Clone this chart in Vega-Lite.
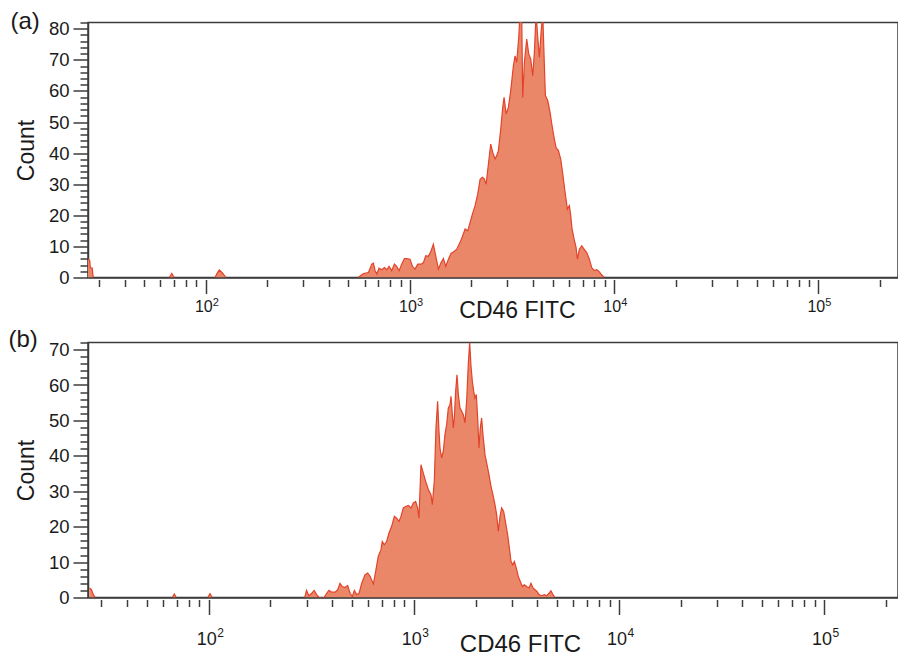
{
  "$schema": "https://vega.github.io/schema/vega-lite/v6.json",
  "background": "white",
  "padding": {"left": 7, "top": 8.5, "right": 0, "bottom": 0},
  "spacing": 3,
  "config": {
    "font": "Liberation Sans",
    "view": {"stroke": "#3c3c3c", "strokeWidth": 1.5},
    "axis": {"grid": false, "tickColor": "#3c3c3c", "domainColor": "#3c3c3c", "tickWidth": 1.5, "domainWidth": 1.5, "labelColor": "#1a1a1a", "titleColor": "#1a1a1a", "titleFontWeight": "normal", "labelOverlap": false, "labelFlush": false, "zindex": 1}
  },
  "datasets": {
    "a": [
      {"v": 26.5, "count": 6.0, "seg": 1}, {"v": 27.0, "count": 5.5, "seg": 1}, {"v": 27.2, "count": 3.2, "seg": 1}, {"v": 27.8, "count": 3.0, "seg": 1}, {"v": 28.1, "count": 0, "seg": 1},
      {"v": 66.3, "count": 0, "seg": 2}, {"v": 68.2, "count": 1.3, "seg": 2}, {"v": 70, "count": 0, "seg": 2},
      {"v": 111, "count": 0, "seg": 3}, {"v": 114, "count": 1.5, "seg": 3}, {"v": 116.5, "count": 2.4, "seg": 3}, {"v": 120, "count": 1.6, "seg": 3}, {"v": 123, "count": 0.8, "seg": 3}, {"v": 125.5, "count": 0, "seg": 3},
      {"v": 559, "count": 0, "seg": 4}, {"v": 570, "count": 0.5, "seg": 4}, {"v": 592, "count": 1.3, "seg": 4}, {"v": 626, "count": 1.6, "seg": 4}, {"v": 650, "count": 4.3, "seg": 4}, {"v": 662, "count": 4.6, "seg": 4}, {"v": 675, "count": 2.2, "seg": 4}, {"v": 688, "count": 1.1, "seg": 4}, {"v": 706, "count": 3.0, "seg": 4}, {"v": 727, "count": 2.5, "seg": 4}, {"v": 750, "count": 3.2, "seg": 4}, {"v": 770, "count": 2.5, "seg": 4}, {"v": 790, "count": 3.6, "seg": 4}, {"v": 814, "count": 2.2, "seg": 4}, {"v": 839, "count": 4.3, "seg": 4}, {"v": 861, "count": 3.6, "seg": 4}, {"v": 885, "count": 2.2, "seg": 4}, {"v": 911, "count": 4.3, "seg": 4}, {"v": 939, "count": 6.1, "seg": 4}, {"v": 964, "count": 6.1, "seg": 4}, {"v": 1001, "count": 5.9, "seg": 4}, {"v": 1028, "count": 3.6, "seg": 4}, {"v": 1059, "count": 2.7, "seg": 4}, {"v": 1092, "count": 4.3, "seg": 4}, {"v": 1134, "count": 4.3, "seg": 4}, {"v": 1164, "count": 4.8, "seg": 4}, {"v": 1195, "count": 7.0, "seg": 4}, {"v": 1231, "count": 6.8, "seg": 4}, {"v": 1269, "count": 8.6, "seg": 4}, {"v": 1302, "count": 10.7, "seg": 4}, {"v": 1327, "count": 8.0, "seg": 4}, {"v": 1352, "count": 5.4, "seg": 4}, {"v": 1378, "count": 2.7, "seg": 4}, {"v": 1420, "count": 4.8, "seg": 4}, {"v": 1458, "count": 6.1, "seg": 4}, {"v": 1497, "count": 3.6, "seg": 4}, {"v": 1543, "count": 5.9, "seg": 4}, {"v": 1590, "count": 7.8, "seg": 4}, {"v": 1633, "count": 8.2, "seg": 4}, {"v": 1695, "count": 9.1, "seg": 4}, {"v": 1760, "count": 11.3, "seg": 4}, {"v": 1807, "count": 13.2, "seg": 4}, {"v": 1862, "count": 15.6, "seg": 4}, {"v": 1919, "count": 15.0, "seg": 4}, {"v": 1970, "count": 17.7, "seg": 4}, {"v": 2022, "count": 20.4, "seg": 4}, {"v": 2084, "count": 23.1, "seg": 4}, {"v": 2147, "count": 26.8, "seg": 4}, {"v": 2205, "count": 31.6, "seg": 4}, {"v": 2263, "count": 32.2, "seg": 4}, {"v": 2307, "count": 31.8, "seg": 4}, {"v": 2359, "count": 30.0, "seg": 4}, {"v": 2422, "count": 36.5, "seg": 4}, {"v": 2486, "count": 42.9, "seg": 4}, {"v": 2543, "count": 40.2, "seg": 4}, {"v": 2611, "count": 38.1, "seg": 4}, {"v": 2660, "count": 39.2, "seg": 4}, {"v": 2711, "count": 40.8, "seg": 4}, {"v": 2783, "count": 47.7, "seg": 4}, {"v": 2847, "count": 54.7, "seg": 4}, {"v": 2890, "count": 57.9, "seg": 4}, {"v": 2956, "count": 52.6, "seg": 4}, {"v": 3034, "count": 54.7, "seg": 4}, {"v": 3115, "count": 60.1, "seg": 4}, {"v": 3210, "count": 68.1, "seg": 4}, {"v": 3271, "count": 71.3, "seg": 4}, {"v": 3333, "count": 69.2, "seg": 4}, {"v": 3409, "count": 77.2, "seg": 4}, {"v": 3461, "count": 85, "seg": 4}, {"v": 3526, "count": 84, "seg": 4}, {"v": 3566, "count": 57.9, "seg": 4}, {"v": 3634, "count": 69.2, "seg": 4}, {"v": 3731, "count": 76.7, "seg": 4}, {"v": 3816, "count": 71.9, "seg": 4}, {"v": 3903, "count": 70.3, "seg": 4}, {"v": 3992, "count": 64.9, "seg": 4}, {"v": 4068, "count": 72.4, "seg": 4}, {"v": 4145, "count": 85, "seg": 4}, {"v": 4224, "count": 77.2, "seg": 4}, {"v": 4305, "count": 70.8, "seg": 4}, {"v": 4385, "count": 78.8, "seg": 4}, {"v": 4469, "count": 85, "seg": 4}, {"v": 4536, "count": 71.3, "seg": 4}, {"v": 4605, "count": 58.5, "seg": 4}, {"v": 4728, "count": 56.9, "seg": 4}, {"v": 4854, "count": 53.1, "seg": 4}, {"v": 4965, "count": 48.8, "seg": 4}, {"v": 5078, "count": 45.0, "seg": 4}, {"v": 5194, "count": 41.8, "seg": 4}, {"v": 5332, "count": 40.8, "seg": 4}, {"v": 5474, "count": 38.1, "seg": 4}, {"v": 5600, "count": 33.3, "seg": 4}, {"v": 5749, "count": 27.4, "seg": 4}, {"v": 5902, "count": 22.0, "seg": 4}, {"v": 6037, "count": 23.1, "seg": 4}, {"v": 6128, "count": 19.9, "seg": 4}, {"v": 6220, "count": 15.6, "seg": 4}, {"v": 6362, "count": 12.4, "seg": 4}, {"v": 6507, "count": 9.7, "seg": 4}, {"v": 6607, "count": 5.9, "seg": 4}, {"v": 6757, "count": 9.1, "seg": 4}, {"v": 6937, "count": 10.2, "seg": 4}, {"v": 7122, "count": 9.1, "seg": 4}, {"v": 7339, "count": 8.0, "seg": 4}, {"v": 7563, "count": 5.9, "seg": 4}, {"v": 7766, "count": 3.2, "seg": 4}, {"v": 7972, "count": 2.2, "seg": 4}, {"v": 8216, "count": 2.5, "seg": 4}, {"v": 8469, "count": 1.8, "seg": 4}, {"v": 8695, "count": 0.8, "seg": 4}, {"v": 8925, "count": 0, "seg": 4}
    ],
    "b": [
      {"v": 26.2, "count": 2.7, "seg": 1}, {"v": 26.8, "count": 2.2, "seg": 1}, {"v": 27.4, "count": 0.8, "seg": 1}, {"v": 28.0, "count": 0, "seg": 1},
      {"v": 66.5, "count": 0, "seg": 2}, {"v": 68, "count": 1.0, "seg": 2}, {"v": 69.5, "count": 0, "seg": 2},
      {"v": 99, "count": 0, "seg": 3}, {"v": 101.5, "count": 1.1, "seg": 3}, {"v": 104, "count": 0, "seg": 3},
      {"v": 292.6, "count": 0, "seg": 4}, {"v": 295, "count": 0.3, "seg": 4}, {"v": 300, "count": 2.0, "seg": 4}, {"v": 308, "count": 0.5, "seg": 4}, {"v": 318, "count": 1.2, "seg": 4}, {"v": 327, "count": 2.0, "seg": 4}, {"v": 336, "count": 0.8, "seg": 4}, {"v": 345, "count": 0, "seg": 4}, {"v": 366, "count": 0, "seg": 4}, {"v": 376, "count": 1.2, "seg": 4}, {"v": 386, "count": 2.0, "seg": 4}, {"v": 398, "count": 1.5, "seg": 4}, {"v": 413, "count": 1.5, "seg": 4}, {"v": 425, "count": 2.1, "seg": 4}, {"v": 437, "count": 4.0, "seg": 4}, {"v": 448, "count": 3.1, "seg": 4}, {"v": 462, "count": 2.8, "seg": 4}, {"v": 476, "count": 3.4, "seg": 4}, {"v": 489, "count": 1.2, "seg": 4}, {"v": 502, "count": 0.3, "seg": 4}, {"v": 513, "count": 2.0, "seg": 4}, {"v": 527, "count": 0.8, "seg": 4}, {"v": 541, "count": 1.2, "seg": 4}, {"v": 557, "count": 4.0, "seg": 4}, {"v": 578, "count": 6.4, "seg": 4}, {"v": 596, "count": 6.9, "seg": 4}, {"v": 612, "count": 6.0, "seg": 4}, {"v": 635, "count": 3.8, "seg": 4}, {"v": 652, "count": 7.4, "seg": 4}, {"v": 671, "count": 11.6, "seg": 4}, {"v": 692, "count": 13.5, "seg": 4}, {"v": 702, "count": 15.8, "seg": 4}, {"v": 718, "count": 14.9, "seg": 4}, {"v": 737, "count": 15.8, "seg": 4}, {"v": 757, "count": 18.2, "seg": 4}, {"v": 780, "count": 20.1, "seg": 4}, {"v": 804, "count": 22.9, "seg": 4}, {"v": 825, "count": 22.4, "seg": 4}, {"v": 847, "count": 21.5, "seg": 4}, {"v": 866, "count": 22.9, "seg": 4}, {"v": 889, "count": 25.3, "seg": 4}, {"v": 913, "count": 25.7, "seg": 4}, {"v": 941, "count": 26.0, "seg": 4}, {"v": 969, "count": 25.3, "seg": 4}, {"v": 995, "count": 26.7, "seg": 4}, {"v": 1021, "count": 27.1, "seg": 4}, {"v": 1044, "count": 25.3, "seg": 4}, {"v": 1060, "count": 22.4, "seg": 4}, {"v": 1084, "count": 37.5, "seg": 4}, {"v": 1113, "count": 35.1, "seg": 4}, {"v": 1143, "count": 32.8, "seg": 4}, {"v": 1177, "count": 30.5, "seg": 4}, {"v": 1213, "count": 29.0, "seg": 4}, {"v": 1231, "count": 26.2, "seg": 4}, {"v": 1259, "count": 32.8, "seg": 4}, {"v": 1283, "count": 47.9, "seg": 4}, {"v": 1307, "count": 55.4, "seg": 4}, {"v": 1327, "count": 46.9, "seg": 4}, {"v": 1342, "count": 42.2, "seg": 4}, {"v": 1367, "count": 39.4, "seg": 4}, {"v": 1393, "count": 41.3, "seg": 4}, {"v": 1419, "count": 46.0, "seg": 4}, {"v": 1446, "count": 48.8, "seg": 4}, {"v": 1474, "count": 53.5, "seg": 4}, {"v": 1502, "count": 54.4, "seg": 4}, {"v": 1519, "count": 56.8, "seg": 4}, {"v": 1542, "count": 51.6, "seg": 4}, {"v": 1559, "count": 47.9, "seg": 4}, {"v": 1576, "count": 50.7, "seg": 4}, {"v": 1600, "count": 58.2, "seg": 4}, {"v": 1624, "count": 62.9, "seg": 4}, {"v": 1649, "count": 57.3, "seg": 4}, {"v": 1680, "count": 53.5, "seg": 4}, {"v": 1712, "count": 52.6, "seg": 4}, {"v": 1744, "count": 51.6, "seg": 4}, {"v": 1777, "count": 49.3, "seg": 4}, {"v": 1810, "count": 55.4, "seg": 4}, {"v": 1845, "count": 66.2, "seg": 4}, {"v": 1873, "count": 72, "seg": 4}, {"v": 1901, "count": 65.3, "seg": 4}, {"v": 1930, "count": 61.0, "seg": 4}, {"v": 1959, "count": 58.2, "seg": 4}, {"v": 1988, "count": 56.3, "seg": 4}, {"v": 2018, "count": 57.3, "seg": 4}, {"v": 2048, "count": 50.7, "seg": 4}, {"v": 2079, "count": 42.2, "seg": 4}, {"v": 2110, "count": 47.9, "seg": 4}, {"v": 2142, "count": 50.7, "seg": 4}, {"v": 2174, "count": 46.0, "seg": 4}, {"v": 2224, "count": 40.3, "seg": 4}, {"v": 2275, "count": 37.5, "seg": 4}, {"v": 2326, "count": 34.7, "seg": 4}, {"v": 2379, "count": 31.4, "seg": 4}, {"v": 2433, "count": 29.0, "seg": 4}, {"v": 2488, "count": 26.2, "seg": 4}, {"v": 2535, "count": 23.4, "seg": 4}, {"v": 2583, "count": 18.7, "seg": 4}, {"v": 2632, "count": 22.9, "seg": 4}, {"v": 2682, "count": 25.3, "seg": 4}, {"v": 2743, "count": 24.3, "seg": 4}, {"v": 2805, "count": 21.0, "seg": 4}, {"v": 2869, "count": 17.7, "seg": 4}, {"v": 2923, "count": 14.0, "seg": 4}, {"v": 2978, "count": 10.2, "seg": 4}, {"v": 3034, "count": 9.2, "seg": 4}, {"v": 3092, "count": 10.2, "seg": 4}, {"v": 3162, "count": 8.3, "seg": 4}, {"v": 3234, "count": 5.9, "seg": 4}, {"v": 3307, "count": 4.5, "seg": 4}, {"v": 3382, "count": 3.1, "seg": 4}, {"v": 3458, "count": 3.6, "seg": 4}, {"v": 3550, "count": 3.1, "seg": 4}, {"v": 3645, "count": 2.7, "seg": 4}, {"v": 3727, "count": 4.0, "seg": 4}, {"v": 3812, "count": 2.7, "seg": 4}, {"v": 3898, "count": 2.2, "seg": 4}, {"v": 3987, "count": 1.7, "seg": 4}, {"v": 4077, "count": 0.8, "seg": 4}, {"v": 4201, "count": 0.5, "seg": 4}, {"v": 4329, "count": 0.8, "seg": 4}, {"v": 4444, "count": 0.5, "seg": 4}, {"v": 4563, "count": 1.2, "seg": 4}, {"v": 4667, "count": 1.9, "seg": 4}, {"v": 4772, "count": 0.8, "seg": 4}, {"v": 4880, "count": 0, "seg": 4}
    ]
  },
  "vconcat": [
    {
      "data": {"name": "a"},
      "width": 810,
      "height": 255,
      "layer": [
        {
          "mark": {"type": "area", "color": "#EA8769", "opacity": 1, "clip": true},
          "encoding": {
            "x": {"field": "v", "type": "quantitative", "scale": {"type": "log", "domain": [26.5, 245500], "nice": false},
              "axis": {"orient": "bottom", "title": "CD46 FITC", "values": [30,40,50,60,70,80,90,100,200,300,400,500,600,700,800,900,1000,2000,3000,4000,5000,6000,7000,8000,9000,10000,20000,30000,40000,50000,60000,70000,80000,90000,100000,200000],
                "labelExpr": "(datum.value==100||datum.value==1000||datum.value==10000||datum.value==100000)?'10':''",
                "tickSize": {"condition": {"test": "datum.value==100||datum.value==1000||datum.value==10000||datum.value==100000", "value": 14}, "value": 7},
                "offset": 2, "domain": false, "labelFontSize": 16, "labelPadding": 5, "labelOffset": -2.5,
                "titleFontSize": 23, "titleX": 429, "titleY": 38, "titleBaseline": "alphabetic"}},
            "y": {"field": "count", "type": "quantitative", "stack": null, "scale": {"domain": [0, 82], "nice": false},
              "axis": {"orient": "left", "title": "Count", "values": [0,2,4,6,8,10,12,14,16,18,20,22,24,26,28,30,32,34,36,38,40,42,44,46,48,50,52,54,56,58,60,62,64,66,68,70,72,74,76,78,80,82],
                "labelExpr": "datum.value % 10 === 0 ? datum.label : ''",
                "tickSize": {"condition": {"test": "datum.value % 10 === 0", "value": 15}, "value": 8},
                "labelFontSize": 18.5, "labelPadding": 4, "titleFontSize": 23, "titlePadding": 10}},
            "detail": {"field": "seg", "type": "nominal"}
          }
        },
        {
          "mark": {"type": "line", "color": "#E2432A", "strokeWidth": 1.2, "clip": true},
          "encoding": {
            "x": {"field": "v", "type": "quantitative",
              "axis": {"orient": "bottom", "title": null, "values": [100,1000,10000,100000],
                "labelExpr": "datum.value==100?'2':datum.value==1000?'3':datum.value==10000?'4':'5'",
                "tickSize": 16, "tickOpacity": 0, "domain": true, "labelFontSize": 11, "labelAlign": "left", "labelOffset": 6.5, "labelPadding": 3}},
            "y": {"field": "count", "type": "quantitative",
              "axis": {"orient": "left", "title": "(a)", "ticks": false, "labels": false, "domain": false, "titleAngle": 0, "titleAlign": "left", "titleBaseline": "alphabetic", "titleX": -78, "titleY": 6, "titleFontSize": 24}},
            "detail": {"field": "seg", "type": "nominal"}
          }
        }
      ],
      "resolve": {"axis": {"x": "independent", "y": "independent"}}
    },
    {
      "data": {"name": "b"},
      "width": 810,
      "height": 255,
      "layer": [
        {
          "mark": {"type": "area", "color": "#EA8769", "opacity": 1, "clip": true},
          "encoding": {
            "x": {"field": "v", "type": "quantitative", "scale": {"type": "log", "domain": [25.8, 229500], "nice": false},
              "axis": {"orient": "bottom", "title": "CD46 FITC", "values": [30,40,50,60,70,80,90,100,200,300,400,500,600,700,800,900,1000,2000,3000,4000,5000,6000,7000,8000,9000,10000,20000,30000,40000,50000,60000,70000,80000,90000,100000,200000],
                "labelExpr": "(datum.value==100||datum.value==1000||datum.value==10000||datum.value==100000)?'10':''",
                "tickSize": {"condition": {"test": "datum.value==100||datum.value==1000||datum.value==10000||datum.value==100000", "value": 15}, "value": 7},
                "offset": 2, "domain": false, "labelFontSize": 18, "labelPadding": 16, "labelOffset": -2.5,
                "titleFontSize": 24, "titleX": 432, "titleY": 52, "titleBaseline": "alphabetic"}},
            "y": {"field": "count", "type": "quantitative", "stack": null, "scale": {"domain": [0, 72], "nice": false},
              "axis": {"orient": "left", "title": "Count", "values": [0,2,4,6,8,10,12,14,16,18,20,22,24,26,28,30,32,34,36,38,40,42,44,46,48,50,52,54,56,58,60,62,64,66,68,70,72],
                "labelExpr": "datum.value % 10 === 0 ? datum.label : ''",
                "tickSize": {"condition": {"test": "datum.value % 10 === 0", "value": 15}, "value": 8},
                "labelFontSize": 18.5, "labelPadding": 4, "titleFontSize": 23, "titlePadding": 10}},
            "detail": {"field": "seg", "type": "nominal"}
          }
        },
        {
          "mark": {"type": "line", "color": "#E2432A", "strokeWidth": 1.2, "clip": true},
          "encoding": {
            "x": {"field": "v", "type": "quantitative",
              "axis": {"orient": "bottom", "title": null, "values": [100,1000,10000,100000],
                "labelExpr": "datum.value==100?'2':datum.value==1000?'3':datum.value==10000?'4':'5'",
                "tickSize": 17, "tickOpacity": 0, "domain": true, "labelFontSize": 12, "labelAlign": "left", "labelOffset": 8, "labelPadding": 13}},
            "y": {"field": "count", "type": "quantitative",
              "axis": {"orient": "left", "title": "(b)", "ticks": false, "labels": false, "domain": false, "titleAngle": 0, "titleAlign": "left", "titleBaseline": "alphabetic", "titleX": -80, "titleY": 4, "titleFontSize": 24}},
            "detail": {"field": "seg", "type": "nominal"}
          }
        }
      ],
      "resolve": {"axis": {"x": "independent", "y": "independent"}}
    }
  ]
}
